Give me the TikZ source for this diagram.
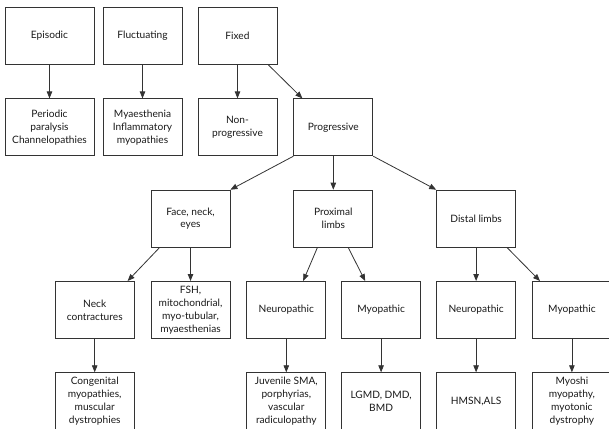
\documentclass[tikz,border=0pt]{standalone}
\usepackage{fontspec}
\setmainfont{Lato}
\usepackage{tikz}
\usetikzlibrary{arrows.meta,positioning}

\begin{document}
\begin{tikzpicture}[
  x=1bp, y=-1bp,
  font=\fontsize{10.2}{13}\selectfont,
  node distance=33.5bp,
  box/.style={draw=black!80, line width=0.8bp, text=black!90, minimum width=79bp, minimum height=57bp, inner sep=1bp, align=center},
  wide/.style={minimum width=89bp},
  ar/.style={-{Triangle[length=7bp, width=5.5bp]}, line width=0.8bp, black!80}
]
\useasboundingbox (0,0) rectangle (609,428);

% top row
\node[box, wide] (episodic) at (49.5,36) {Episodic};
\node[box] (fluct) at (142.5,36) {Fluctuating};
\node[box] (fixed) at (237.5,36) {Fixed};

\node[box, wide, below=of episodic] (periodic) {Periodic\\paralysis\\Channelopathies};
\node[box, below=of fluct] (myasth) {Myaesthenia\\Inflammatory\\myopathies};
\node[box, below=of fixed] (nonprog) {Non-\\progressive};
\node[box, right=16bp of nonprog] (prog) {Progressive};

% distribution
\node[box, below=of prog] (proximal) {Proximal\\limbs};
\node[box, left=63bp of proximal] (face) {Face, neck,\\eyes};
\node[box, right=63bp of proximal] (distal) {Distal limbs};

\node[box, below=of face] (fsh) {FSH,\\mitochondrial,\\myo-tubular,\\myaesthenias};
\node[box, left=16bp of fsh] (neck) {Neck\\contractures};
\node[box, below=of proximal, xshift=-47bp] (neuroA) {Neuropathic};
\node[box, right=15bp of neuroA] (myoA) {Myopathic};
\node[box, below=of distal] (neuroB) {Neuropathic};
\node[box, right=16bp of neuroB] (myoB) {Myopathic};

% bottom row
\node[box, below=of neck] (congenital) {Congenital\\myopathies,\\muscular\\dystrophies};
\node[box, below=of neuroA] (juvenile) {Juvenile SMA,\\porphyrias,\\vascular\\radiculopathy};
\node[box, below=of myoA] (lgmd) {LGMD, DMD,\\BMD};
\node[box, below=of neuroB] (hmsn) {HMSN,ALS};
\node[box, below=of myoB] (myoshi) {Myoshi\\myopathy,\\myotonic\\dystrophy};

\draw[ar] (episodic) -- (periodic);
\draw[ar] (fluct) -- (myasth);
\draw[ar] (fixed) -- (nonprog);
\draw[ar] ([xshift=-9bp]fixed.south east) -- ([xshift=9bp]prog.north west);
\draw[ar] (prog.south west) -- (face.north east);
\draw[ar] (prog) -- (proximal);
\draw[ar] (prog.south east) -- (distal.north west);
\draw[ar] ([xshift=9bp]face.south west) -- ([xshift=-7bp]neck.north east);
\draw[ar] (face) -- (fsh);
\draw[ar] ([xshift=24bp]proximal.south west) -- ([xshift=-23bp]neuroA.north east);
\draw[ar] ([xshift=-25bp]proximal.south east) -- ([xshift=24bp]myoA.north west);
\draw[ar] (distal) -- (neuroB);
\draw[ar] ([xshift=-9bp]distal.south east) -- ([xshift=8bp]myoB.north west);
\draw[ar] (neck) -- (congenital);
\draw[ar] (neuroA) -- (juvenile);
\draw[ar] (myoA) -- (lgmd);
\draw[ar] (neuroB) -- (hmsn);
\draw[ar] (myoB) -- (myoshi);

\end{tikzpicture}
\end{document}
